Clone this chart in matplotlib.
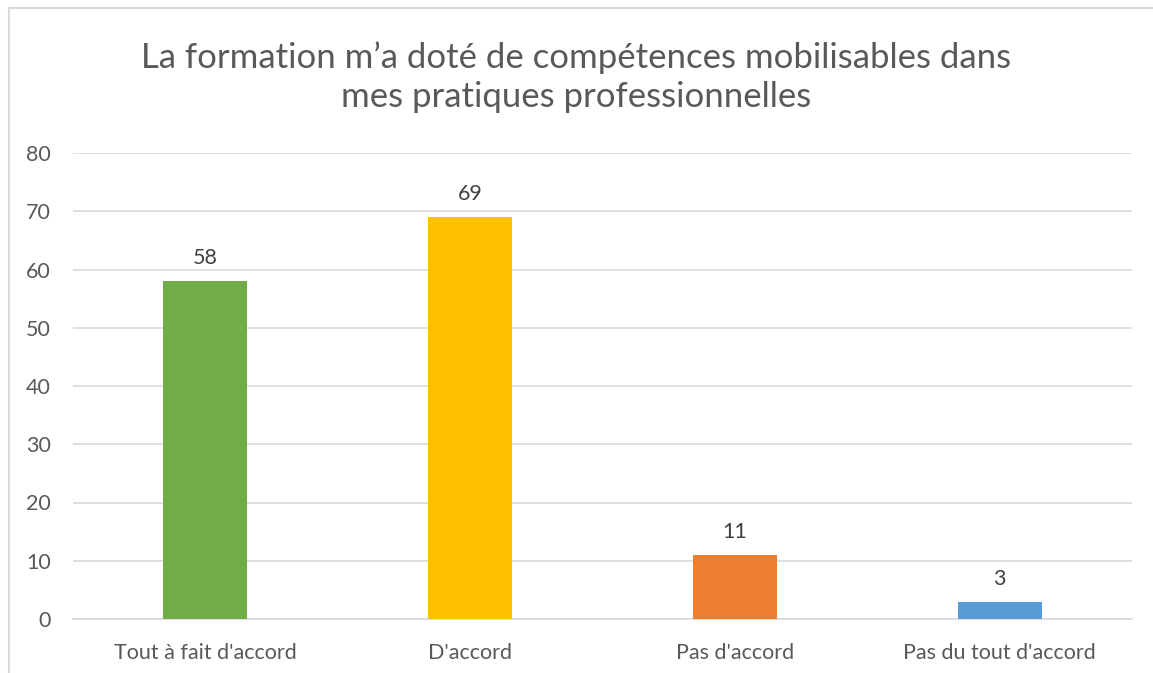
import matplotlib.pyplot as plt
from matplotlib.patches import Rectangle

categories = ["Tout à fait d'accord", "D'accord", "Pas d'accord", "Pas du tout d'accord"]
values = [58, 69, 11, 3]
colors = ["#70AD47", "#FFC000", "#ED7D31", "#5B9BD5"]
yticks = [0, 10, 20, 30, 40, 50, 60, 70, 80]

plt.rcParams['font.family'] = ['Lato', 'DejaVu Sans']

W, H = 1153, 673
fig = plt.figure(figsize=(W / 100, H / 100), dpi=100)

# axes placed in pixel coordinates of the reference
left, right, bottom, top = 73, 1132, 619, 153
ax = fig.add_axes([left / W, 1 - bottom / H, (right - left) / W, (bottom - top) / H])

x = range(len(categories))
ax.bar(x, values, width=0.317, color=colors, zorder=3)
for xi, v in zip(x, values):
    ax.text(xi, v + 2.2, str(v), ha='center', va='bottom', fontsize=15.5, color='#404040')

ax.set_ylim(0, 80)
ax.set_xlim(-0.5, len(categories) - 0.5)
ax.set_yticks(yticks)
ax.set_xticks(list(x))
ax.set_xticklabels(categories)
ax.tick_params(axis='both', length=0, labelsize=15.5, colors='#595959')
ax.tick_params(axis='y', pad=16)
ax.tick_params(axis='x', pad=17)
ax.grid(True, axis='y', color='#D9D9D9', linewidth=1.2, zorder=0)
for s in ['top', 'right', 'left']:
    ax.spines[s].set_visible(False)
ax.spines['bottom'].set_color('#D9D9D9')
ax.spines['bottom'].set_linewidth(1.2)

fig.text(0.5, 1 - 77 / H,
         "La formation m\u2019a doté de compétences mobilisables dans\nmes pratiques professionnelles",
         ha='center', va='center', fontsize=25, color='#595959', linespacing=1.25)

# chart frame (only top and left edge visible in the crop)
fig.patches.append(Rectangle((8.5 / W, -0.1), 1.2, 1 - 8.5 / H + 0.1, transform=fig.transFigure,
                             fill=False, edgecolor='#D9D9D9', linewidth=1.5))

fig.savefig('out.png', dpi=100)
